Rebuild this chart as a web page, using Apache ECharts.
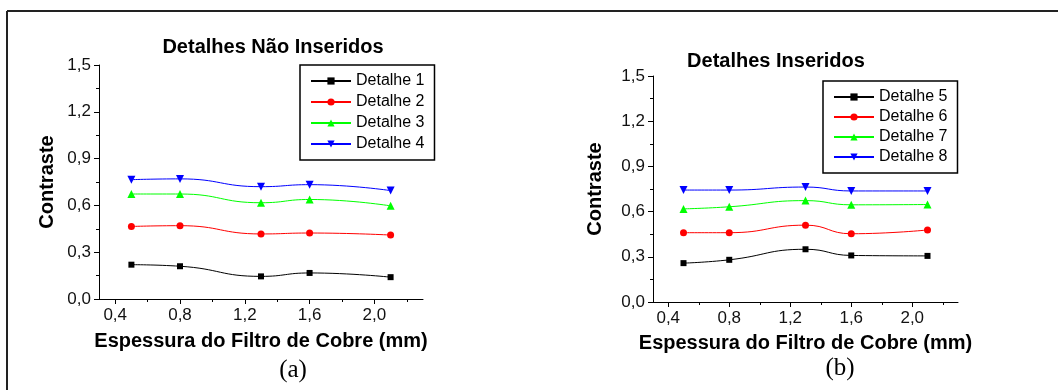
<!DOCTYPE html>
<html>
<head>
<meta charset="utf-8">
<script src="https://cdn.jsdelivr.net/npm/echarts@6/dist/echarts.min.js"></script>
<style>
  html, body { margin: 0; padding: 0; background: #fff; }
  #chart { width: 1058px; height: 390px; }
</style>
</head>
<body>
<div id="chart"></div>
<script>
(function () {
    // espessura do filtro (mm)
    var thickness = [0.5, 0.8, 1.3, 1.6, 2.1];

    // (a) detalhes nao inseridos
    var det1 = [0.22, 0.21, 0.145, 0.167, 0.14];
    var det2 = [0.465, 0.47, 0.417, 0.423, 0.41];
    var det3 = [0.673, 0.673, 0.617, 0.638, 0.597];
    var det4 = [0.765, 0.77, 0.72, 0.733, 0.695];

    // (b) detalhes inseridos
    var det5 = [0.258, 0.28, 0.35, 0.309, 0.306];
    var det6 = [0.46, 0.46, 0.51, 0.453, 0.478];
    var det7 = [0.618, 0.632, 0.673, 0.645, 0.647];
    var det8 = [0.743, 0.743, 0.763, 0.737, 0.737];

    var namesA = ['Detalhe 1', 'Detalhe 2', 'Detalhe 3', 'Detalhe 4'];
    var namesB = ['Detalhe 5', 'Detalhe 6', 'Detalhe 7', 'Detalhe 8'];

    var xMajor = [0.4, 0.8, 1.2, 1.6, 2.0];
    var xMinor = [0.6, 1.0, 1.4, 1.8, 2.2];

    var colors = ['#000000', '#ff0000', '#00ff00', '#0000ff'];
    var symbols = ['rect', 'circle', 'triangle', 'path://M0,0L10,0L5,9Z'];
    var sizes = [6, 7, 8, 8];

    var comma = function (v) { return v.toFixed(1).replace('.', ','); };

    function pairs(ys) {
        return thickness.map(function (x, i) { return [x, ys[i]]; });
    }

    function xAxes(grid, nameGap) {
        return [{
            type: 'value', gridIndex: grid, position: 'bottom',
            min: 0.3, max: 2.3,
            name: 'Espessura do Filtro de Cobre (mm)',
            nameLocation: 'middle', nameGap: nameGap,
            nameTextStyle: { fontFamily: 'Liberation Sans', fontWeight: 'bold', fontSize: 20, color: '#000' },
            axisLine: { lineStyle: { color: '#000', width: 1 } },
            axisTick: { show: true, length: 5, customValues: xMajor, lineStyle: { color: '#000' } },
            axisLabel: { customValues: xMajor, formatter: comma, margin: 8,
                fontFamily: 'Liberation Sans', fontSize: 17, color: '#111' },
            splitLine: { show: false }
        }, {
            type: 'value', gridIndex: grid, position: 'bottom',
            min: 0.3, max: 2.3,
            axisLine: { show: false },
            axisTick: { show: true, length: 3, customValues: xMinor, lineStyle: { color: '#000' } },
            axisLabel: { show: false },
            splitLine: { show: false }
        }];
    }

    function yAxis(grid, nameGap) {
        return {
            type: 'value', gridIndex: grid,
            min: 0, max: 1.5, interval: 0.3,
            name: 'Contraste', nameLocation: 'middle', nameGap: nameGap,
            nameTextStyle: { fontFamily: 'Liberation Sans', fontWeight: 'bold', fontSize: 20, color: '#000' },
            axisLine: { show: true, lineStyle: { color: '#000', width: 1 } },
            axisTick: { show: true, length: 5, lineStyle: { color: '#000' } },
            minorTick: { show: true, splitNumber: 2, length: 3, lineStyle: { color: '#000' } },
            axisLabel: { formatter: comma, margin: 8,
                fontFamily: 'Liberation Sans', fontSize: 17, color: '#111' },
            splitLine: { show: false }
        };
    }

    function lines(names, sets, xIdx, yIdx) {
        return sets.map(function (ys, i) {
            return {
                name: names[i], type: 'line',
                xAxisIndex: xIdx, yAxisIndex: yIdx,
                data: pairs(ys),
                smooth: 0.5,
                symbol: symbols[i], symbolSize: sizes[i],
                lineStyle: { color: colors[i], width: 1 },
                itemStyle: { color: colors[i] }
            };
        });
    }

    function legend(names, left, top, gap) {
        return {
            data: names, orient: 'vertical',
            left: left, top: top,
            itemWidth: 40, itemHeight: 9, itemGap: gap,
            padding: [8, 10, 8, 10],
            borderColor: '#000', borderWidth: 1.5,
            textStyle: { fontFamily: 'Liberation Sans', fontSize: 16, lineHeight: 16, color: '#000' }
        };
    }

    var chart = echarts.init(document.getElementById('chart'), null, { renderer: 'canvas' });
    chart.setOption({
        backgroundColor: '#fff',
        animation: false,
        grid: [
            { left: 99, top: 65, width: 324, height: 234, containLabel: false, outerBoundsMode: 'none' },
            { left: 653, top: 76, width: 305, height: 226, containLabel: false, outerBoundsMode: 'none' }
        ],
        xAxis: xAxes(0, 32).concat(xAxes(1, 31)),
        yAxis: [yAxis(0, 42), yAxis(1, 48)],
        legend: [legend(namesA, 300, 65, 5), legend(namesB, 823, 81, 4)],
        series: lines(namesA, [det1, det2, det3, det4], 0, 0)
            .concat(lines(namesB, [det5, det6, det7, det8], 2, 1)),
        graphic: [
            { type: 'line', shape: { x1: 7, y1: 11, x2: 1058, y2: 11 }, style: { stroke: '#222', lineWidth: 2 } },
            { type: 'line', shape: { x1: 7, y1: 11, x2: 7, y2: 390 }, style: { stroke: '#222', lineWidth: 2 } },
            { type: 'text', x: 273, y: 47, style: { text: 'Detalhes Não Inseridos', fontFamily: 'Liberation Sans',
                fontWeight: 'bold', fontSize: 20, fill: '#000', textAlign: 'center', textVerticalAlign: 'middle' } },
            { type: 'text', x: 776, y: 61, style: { text: 'Detalhes Inseridos', fontFamily: 'Liberation Sans',
                fontWeight: 'bold', fontSize: 20, fill: '#000', textAlign: 'center', textVerticalAlign: 'middle' } },
            { type: 'text', x: 293, y: 370, style: { text: '(a)', fontFamily: 'Liberation Serif',
                fontSize: 25, fill: '#000', textAlign: 'center', textVerticalAlign: 'middle' } },
            { type: 'text', x: 840, y: 368, style: { text: '(b)', fontFamily: 'Liberation Serif',
                fontSize: 25, fill: '#000', textAlign: 'center', textVerticalAlign: 'middle' } }
        ]
    });
})();
</script>
</body>
</html>
